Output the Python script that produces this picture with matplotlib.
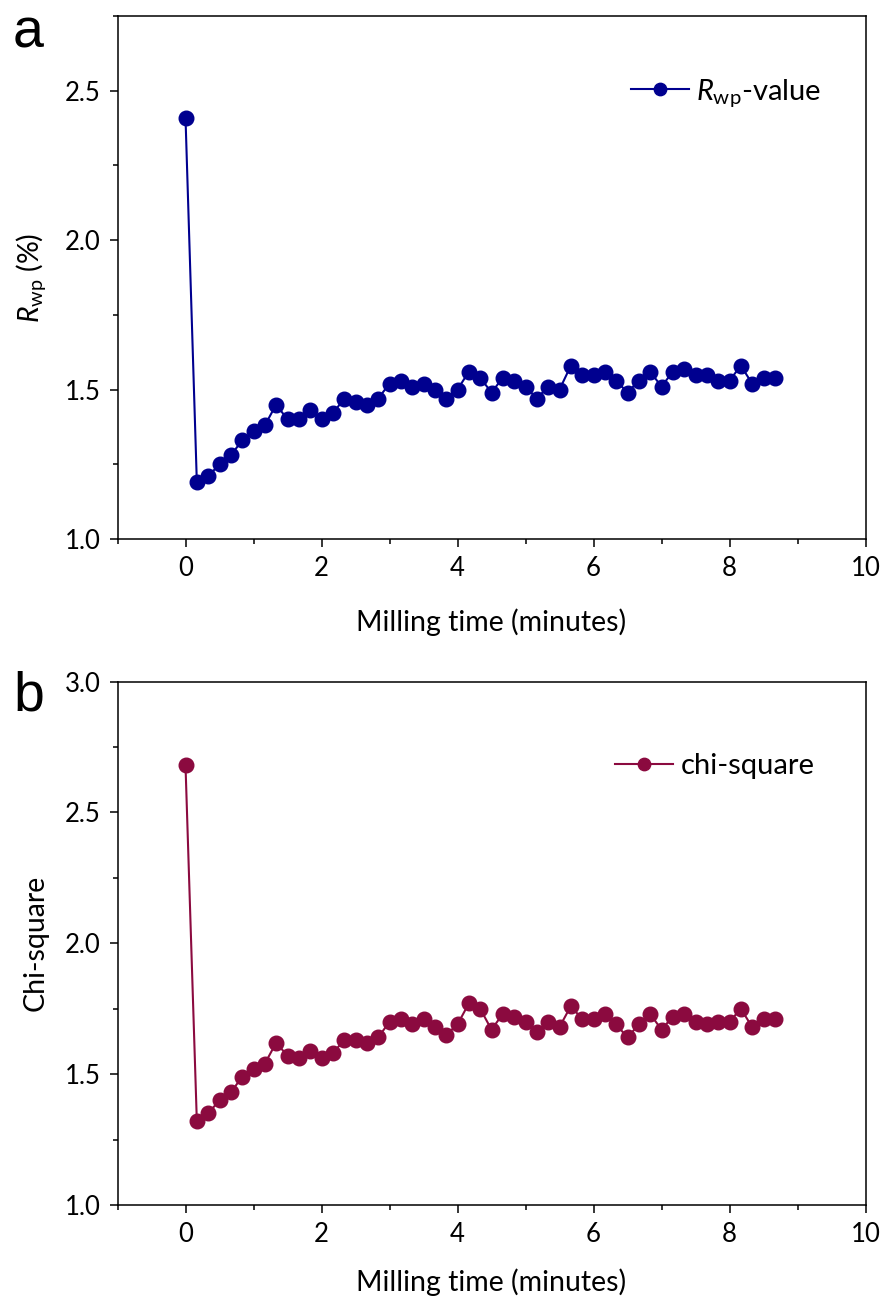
import matplotlib
matplotlib.use('Agg')
import matplotlib.pyplot as plt
from matplotlib.ticker import MultipleLocator

plt.rcParams['font.family'] = ['Lato', 'DejaVu Sans']
plt.rcParams['mathtext.fontset'] = 'custom'
plt.rcParams['mathtext.rm'] = 'Lato'
plt.rcParams['mathtext.it'] = 'Lato:italic'

# milling time, one scan every 10 s (minutes)
time_min = [i / 6 for i in range(53)]

rwp = [2.41, 1.19, 1.21, 1.25, 1.28, 1.33, 1.36, 1.38, 1.45, 1.40,
       1.40, 1.43, 1.40, 1.42, 1.47, 1.46, 1.45, 1.47, 1.52, 1.53,
       1.51, 1.52, 1.50, 1.47, 1.50, 1.56, 1.54, 1.49, 1.54, 1.53,
       1.51, 1.47, 1.51, 1.50, 1.58, 1.55, 1.55, 1.56, 1.53, 1.49,
       1.53, 1.56, 1.51, 1.56, 1.57, 1.55, 1.55, 1.53, 1.53, 1.58,
       1.52, 1.54, 1.54]

chi2 = [2.68, 1.32, 1.35, 1.40, 1.43, 1.49, 1.52, 1.54, 1.62, 1.57,
        1.56, 1.59, 1.56, 1.58, 1.63, 1.63, 1.62, 1.64, 1.70, 1.71,
        1.69, 1.71, 1.68, 1.65, 1.69, 1.77, 1.75, 1.67, 1.73, 1.72,
        1.70, 1.66, 1.70, 1.68, 1.76, 1.71, 1.71, 1.73, 1.69, 1.64,
        1.69, 1.73, 1.67, 1.72, 1.73, 1.70, 1.69, 1.70, 1.70, 1.75,
        1.68, 1.71, 1.71]

blue = '#00008f'
wine = '#8b0a3f'

fig = plt.figure(figsize=(8.84, 13.06), dpi=100)
W, H = 884, 1306


def make_axes(top, bottom):
    return fig.add_axes([117.5 / W, 1 - bottom / H, 748 / W, (bottom - top) / H])


def style(ax, ylim, ymajor, xpad):
    ax.set_xlim(-1, 10)
    ax.set_ylim(*ylim)
    ax.xaxis.set_major_locator(MultipleLocator(2))
    ax.xaxis.set_minor_locator(MultipleLocator(1))
    ax.yaxis.set_major_locator(MultipleLocator(ymajor))
    ax.yaxis.set_minor_locator(MultipleLocator(ymajor / 2))
    ax.yaxis.set_major_formatter(plt.FormatStrFormatter('%.1f'))
    for s in ax.spines.values():
        s.set_linewidth(1.1)
    ax.tick_params(which='major', direction='out', length=6, width=1.1,
                   labelsize=18.5, pad=6)
    ax.tick_params(which='minor', direction='out', length=3.5, width=1.1)
    ax.set_xlabel('Milling time (minutes)', fontsize=20.5, labelpad=xpad)


ax1 = make_axes(16, 539)
ax1.plot(time_min, rwp, '-o', color=blue, lw=1.5, ms=10.5,
         label=r'$R_{\mathrm{wp}}$-value')
style(ax1, (1.0, 2.75), 0.5, 20)
ax1.set_ylabel(r'$R_{\mathrm{wp}}$ (%)', fontsize=20.5, labelpad=12)
ax1.legend(loc='center left', bbox_to_anchor=(0.686, 0.853), frameon=False,
           fontsize=21, borderpad=0, borderaxespad=0, handlelength=2.0,
           handletextpad=0.25, markerscale=0.85)

ax2 = make_axes(681.5, 1205)
ax2.plot(time_min, chi2, '-o', color=wine, lw=1.5, ms=10.5, label='chi-square')
style(ax2, (1.0, 3.0), 0.5, 16)
ax2.set_ylabel('Chi-square', fontsize=20.5, labelpad=12)
ax2.legend(loc='center left', bbox_to_anchor=(0.665, 0.839), frameon=False,
           fontsize=21, borderpad=0, borderaxespad=0, handlelength=2.0,
           handletextpad=0.25, markerscale=0.85)

fig.text(13 / W, 1 - 47 / H, 'a', fontsize=40, family='Liberation Sans')
fig.text(13 / W, 1 - 710 / H, 'b', fontsize=40, family='Liberation Sans')

fig.savefig('out.png', dpi=100)
